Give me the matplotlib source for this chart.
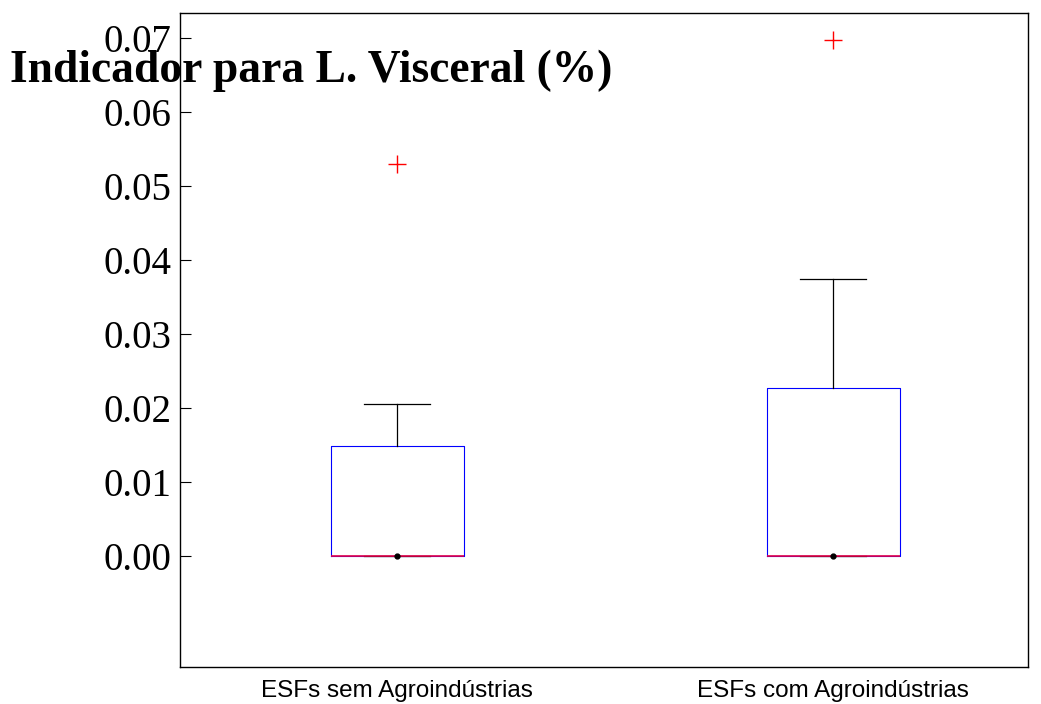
import matplotlib
matplotlib.use('Agg')
import matplotlib.pyplot as plt


# Group labels and the box statistics
groups = ['ESFs sem Agroindústrias', 'ESFs com Agroindústrias']
medians = [0.0, 0.0]
q1 = [0.0, 0.0]
q3 = [0.0149, 0.0227]
whisk_lo = [0.0, 0.0]
whisk_hi = [0.0205, 0.0374]
outliers = [[0.053], [0.0697]]
low_points = [0.0, 0.0]

yticks = [0.00, 0.01, 0.02, 0.03, 0.04, 0.05, 0.06, 0.07]

stats = []
for i, name in enumerate(groups):
    stats.append({'label': name, 'med': medians[i], 'q1': q1[i], 'q3': q3[i],
                  'whislo': whisk_lo[i], 'whishi': whisk_hi[i],
                  'fliers': outliers[i]})

fig = plt.figure(figsize=(10.41, 7.04), dpi=100)
ax = fig.add_axes([180 / 1041, 37 / 704, 848 / 1041, 654 / 704])

positions = [1, 2]
ax.bxp(stats, positions=positions, widths=0.305,
       boxprops=dict(color='blue', linewidth=0.8),
       medianprops=dict(color='#e0004a', linewidth=1.2),
       whiskerprops=dict(color='black', linewidth=0.9),
       capprops=dict(color='black', linewidth=0.9),
       capwidths=0.15,
       flierprops=dict(marker='+', markeredgecolor='red', markersize=13,
                       markeredgewidth=1.0, linestyle='none'))
ax.plot(positions, low_points, 'o', color='black', markersize=3.5, zorder=5)

ax.set_xlim(0.502, 2.447)
ax.set_ylim(-0.015, 0.0734)
ax.set_yticks(yticks)
ax.set_yticklabels(['%.2f' % v for v in yticks], fontsize=28,
                   family='Liberation Serif')
ax.set_xticks(positions)
ax.set_xticklabels(groups, fontsize=17.5, family='Liberation Sans')
ax.tick_params(axis='y', direction='in', length=8, pad=6)
ax.tick_params(axis='x', length=0, pad=9)
for sp in ax.spines.values():
    sp.set_linewidth(1.0)

fig.text(10 / 1041, 1 - 71 / 704, 'Indicador para L. Visceral (%)',
         fontsize=32.8, fontweight='bold', family='Liberation Serif',
         ha='left', va='center')

fig.savefig('out.png')
